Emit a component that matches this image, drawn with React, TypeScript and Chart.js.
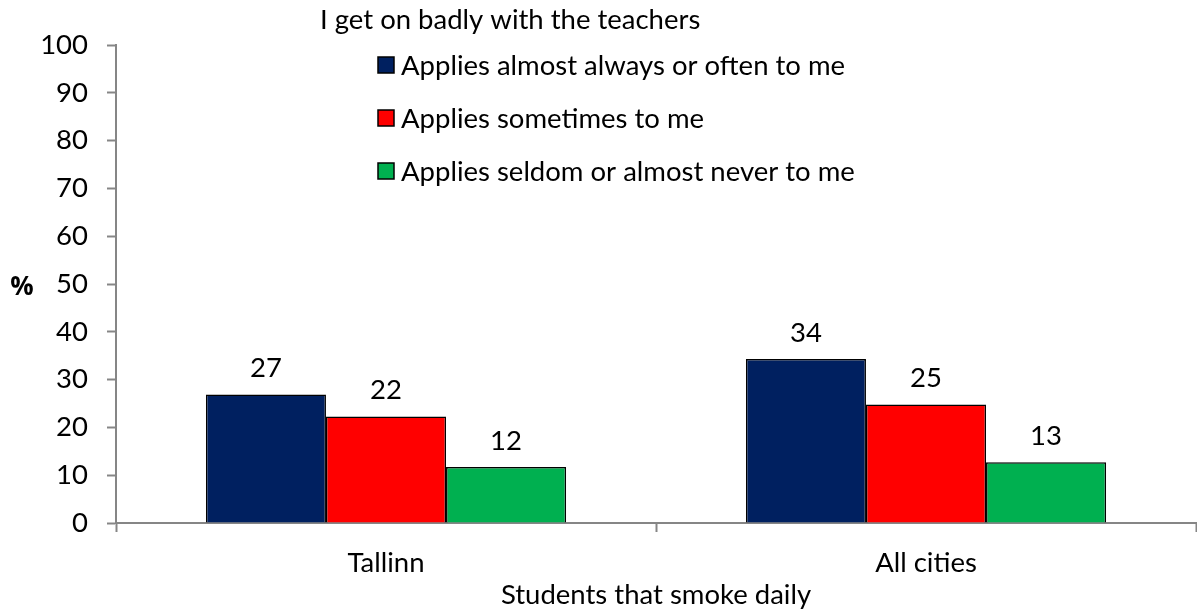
import React, { useEffect, useRef } from "react";
import { Chart, registerables } from "chart.js";

Chart.register(...registerables);

const chartTitle = "I get on badly with the teachers";
const categories = ["Tallinn", "All cities"];
const seriesNames = [
  "Applies almost always or often to me",
  "Applies sometimes to me",
  "Applies seldom or almost never to me",
];
const oftenValues = [26.9, 34.3];
const sometimesValues = [22.3, 24.8];
const seldomValues = [11.7, 12.7];
const seriesColors = ["#002060", "#FF0000", "#00B050"];
const yTitle = "%";
const xTitle = "Students that smoke daily";

const FONT = "Lato";
const FS = 27.5;

const overlayPlugin = {
  id: "overlay",
  afterDatasetsDraw(chart: any) {
    const ctx = chart.ctx;
    ctx.save();
    ctx.fillStyle = "#000";
    ctx.font = `${FS}px ${FONT}`;
    ctx.textAlign = "center";
    ctx.textBaseline = "alphabetic";
    chart.data.datasets.forEach((ds: any, di: number) => {
      const meta = chart.getDatasetMeta(di);
      meta.data.forEach((bar: any, i: number) => {
        const v = ds.data[i];
        ctx.fillText(String(Math.round(v)), bar.x, bar.y - 17);
      });
    });
    // title
    ctx.textAlign = "left";
    ctx.textBaseline = "middle";
    ctx.fillText(chartTitle, 320, 20);
    // legend
    const rows = [65, 118, 171];
    chart.data.datasets.forEach((ds: any, di: number) => {
      const cy = rows[di];
      ctx.fillStyle = ds.backgroundColor;
      ctx.fillRect(378, cy - 8, 16, 16);
      ctx.strokeStyle = "#000";
      ctx.lineWidth = 1.5;
      ctx.strokeRect(378, cy - 8, 16, 16);
      ctx.fillStyle = "#000";
      ctx.fillText(ds.label, 401, cy + 1);
    });
    // y title
    ctx.font = `bold 26px "Open Sans"`;
    ctx.textAlign = "center";
    ctx.fillText(yTitle, 22, 288);
    ctx.restore();
  },
};

export default function App() {
  const ref = useRef<HTMLCanvasElement>(null);
  useEffect(() => {
    const canvas = ref.current!;
    const data = [oftenValues, sometimesValues, seldomValues];
    const chart = new Chart(canvas, {
      type: "bar",
      data: {
        labels: categories,
        datasets: seriesNames.map((name, i) => ({
          label: name,
          data: data[i],
          backgroundColor: seriesColors[i],
          borderColor: "#000",
          borderWidth: 1.5,
          barPercentage: 1,
          categoryPercentage: 0.667,
        })),
      },
      options: {
        animation: false,
        responsive: false,
        devicePixelRatio: 1,
        layout: { padding: { top: 45, right: 1, bottom: 0, left: 0 } },
        plugins: {
          legend: { display: false },
          title: { display: false },
          tooltip: { enabled: false },
        },
        scales: {
          x: {
            grid: {
              display: true,
              drawOnChartArea: false,
              drawTicks: true,
              tickLength: 9,
              tickColor: "#868686",
              tickWidth: 2,
              offset: true,
            },
            border: { display: true, color: "#868686", width: 2 },
            ticks: {
              color: "#000",
              font: { family: FONT, size: FS },
              padding: 15,
            },
            title: {
              display: true,
              text: xTitle,
              color: "#000",
              font: { family: FONT, size: FS },
              padding: { top: 0, bottom: 2 },
            },
            afterFit: (scale: any) => {
              scale.height = 91;
            },
          },
          y: {
            min: 0,
            max: 100,
            grid: {
              display: true,
              drawOnChartArea: false,
              drawTicks: true,
              tickLength: 9,
              tickColor: "#868686",
              tickWidth: 2,
            },
            border: { display: true, color: "#868686", width: 2 },
            ticks: {
              stepSize: 10,
              color: "#000",
              font: { family: FONT, size: FS },
              padding: 19,
            },
            afterFit: (scale: any) => {
              scale.width = 116;
            },
          },
        },
      },
      plugins: [overlayPlugin],
    });
    return () => chart.destroy();
  }, []);
  return (
    <div style={{ position: "absolute", left: 0, top: 0, width: 1197, height: 614, background: "#fff" }}>
      <canvas ref={ref} width={1197} height={614} />
    </div>
  );
}
